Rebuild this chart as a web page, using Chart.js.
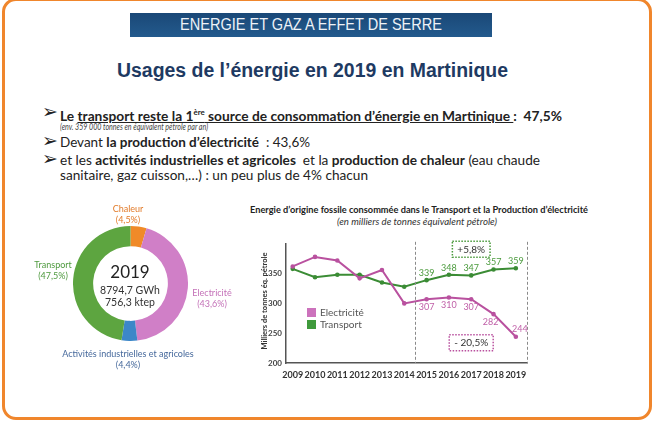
<!DOCTYPE html>
<html lang="fr">
<head>
<meta charset="utf-8">
<script src="https://cdn.jsdelivr.net/npm/chart.js@4.4.1/dist/chart.umd.min.js"></script>
<style>
  html, body { margin: 0; padding: 0; background: #fff; }
  body { width: 657px; height: 424px; position: relative; overflow: hidden; font-family: Lato, "Open Sans", sans-serif; color: #222; }
  .frame { position: absolute; left: 2px; top: -2px; width: 644px; height: 416px; border: 3px solid #f0862c; border-radius: 14px; }
  .abs { position: absolute; white-space: nowrap; }
  .fit { transform-origin: 0 50%; }
  .ctr { transform: translateX(-50%); text-align: center; }
  #header { left: 130px; top: 13px; width: 362px; height: 24px; background: linear-gradient(#1a4877, #235a8d); }
  #header-text { left: 180px; top: 15px; font: 17px/20px "Liberation Sans", Arial, sans-serif; color: #eef2f7; }
  #title { left: 117px; top: 58px; font: bold 20px/24px "Liberation Sans", Arial, sans-serif; color: #1e3a62; }
  .arrow { left: 42px; font: 19px/17px "DejaVu Sans", sans-serif; color: #222; }
  .bl { left: 60px; font-size: 14px; line-height: 17px; }
  .bl b { font-weight: bold; }
  #note { left: 60px; top: 121px; font: italic 9px/12px Lato, sans-serif; color: #444; }
  .dl { font-size: 9px; line-height: 11px; }
  #ctitle { left: 250px; top: 204px; font: bold 9.5px/12px Lato, sans-serif; color: #222; }
  #csub { left: 337px; top: 216px; font: italic 9px/12px Lato, sans-serif; color: #333; }
  #ytitle { left: 264px; top: 301px; font: bold 7.5px/9px Lato, sans-serif; color: #333; transform: translate(-50%, -50%) rotate(-90deg); }
  .lg { left: 307px; font: 10px/12px Lato, sans-serif; color: #555; }
  .lg i { display: inline-block; width: 9px; height: 9px; margin-right: 4px; vertical-align: -1px; }
  #donut { position: absolute; left: 73px; top: 226px; width: 115px; height: 115px; }
  #lines { position: absolute; left: 240px; top: 235px; width: 295px; height: 147px; }
</style>
</head>
<body>
<div class="frame"></div>
<div id="header" class="abs"></div>
<div id="header-text" class="abs fit">ENERGIE ET GAZ A EFFET DE SERRE</div>
<div id="title" class="abs fit">Usages de l’énergie en 2019 en Martinique</div>

<div class="abs arrow" style="top:103px">➢</div>
<div id="l1" class="abs bl fit" style="top:104px"><b>Le <u>transport reste la 1<sup style="font-size:8px">ère</sup> source de consommation d’énergie en Martinique </u>:&nbsp; 47,5%</b></div>
<div id="note" class="abs fit">(env. 359 000 tonnes en équivalent pétrole par an)</div>
<div class="abs arrow" style="top:132px">➢</div>
<div id="l2" class="abs bl fit" style="top:133px">Devant <b>la production d’électricité</b> &nbsp;: 43,6%</div>
<div class="abs arrow" style="top:150px">➢</div>
<div id="l3" class="abs bl fit" style="top:151px">et les <b>activités industrielles et agricoles</b> &nbsp;et la <b>production de chaleur</b> (eau chaude</div>
<div id="l4" class="abs bl fit" style="top:166px">sanitaire, gaz cuisson,…) : un peu plus de 4% chacun</div>

<canvas id="donut"></canvas>
<div class="abs ctr" style="left:130px; top:262px; font: 17px/20px Lato, sans-serif; color:#222">2019</div>
<div class="abs ctr" style="left:130px; top:284px; font: 10.5px/13px Lato, sans-serif; color:#333">8794,7 GWh</div>
<div class="abs ctr" style="left:130px; top:296px; font: 10.5px/13px Lato, sans-serif; color:#333">756,3 ktep</div>
<div class="abs ctr dl" style="left:128px; top:203px; color:#e27b2a">Chaleur<br>(4,5%)</div>
<div class="abs ctr dl" style="left:53px; top:259px; color:#4f9a3f">Transport<br>(47,5%)</div>
<div class="abs ctr dl" style="left:212px; top:287px; color:#c472b8">Electricité<br>(43,6%)</div>
<div class="abs ctr dl" style="left:128px; top:348px; color:#46699c">Activités industrielles et agricoles<br>(4,4%)</div>

<div id="ctitle" class="abs fit">Energie d’origine fossile consommée dans le Transport et la Production d’électricité</div>
<div id="csub" class="abs fit">(en milliers de tonnes équivalent pétrole)</div>
<div id="ytitle" class="abs">Milliers de tonnes éq. pétrole</div>
<canvas id="lines"></canvas>
<div class="abs lg" style="top:306px"><i style="background:#cc72bc"></i>Electricité</div>
<div class="abs lg" style="top:318px"><i style="background:#3f9a3c"></i>Transport</div>

<script>
// Répartition 2019 (%)
const usageLabels = ['Chaleur', 'Electricité', 'Activités industrielles et agricoles', 'Transport'];
const usageShares = [4.5, 43.6, 4.4, 47.5];
const usageColors = ['#f08a28', '#d07fc7', '#3c87c8', '#5da540'];

// Energie fossile (milliers de tep)
const years = [2009, 2010, 2011, 2012, 2013, 2014, 2015, 2016, 2017, 2018, 2019];
const elecValues = [362, 378, 372, 342, 356, 300, 307, 310, 307, 282, 244];
const transportValues = [358, 344, 348, 348, 335, 328, 339, 348, 347, 357, 359];
const yTicks = [200, 250, 300, 350];
const firstLabelYear = 2015;
const periodBounds = [2014.5, 2019.5];
const trendNotes = [
  { text: '+5,8%', year: 2017, value: 391, color: '#4a9a3c' },
  { text: '- 20,5%', year: 2017, value: 234, color: '#b9519f' }
];

const ELEC = '#b9519f';
const TRANSPORT = '#3b8c35';

function fitText(id, width) {
  const el = document.getElementById(id);
  el.style.transform = `scaleX(${width / el.getBoundingClientRect().width})`;
}
fitText('header-text', 262);
fitText('title', 391);
fitText('l1', 502);
fitText('note', 148);
fitText('l2', 250);
fitText('l3', 480);
fitText('l4', 308);
fitText('ctitle', 338);
fitText('csub', 160);

new Chart(document.getElementById('donut'), {
  type: 'doughnut',
  data: {
    labels: usageLabels,
    datasets: [{ data: usageShares, backgroundColor: usageColors, borderWidth: 0 }]
  },
  options: {
    responsive: false,
    animation: false,
    cutout: '65%',
    plugins: { legend: { display: false }, tooltip: { enabled: false } }
  }
});

// valeurs 2015-2019 + lignes pointillées + encadrés
const extras = {
  id: 'extras',
  afterDatasetsDraw(chart) {
    const { ctx, chartArea, scales } = chart;
    ctx.save();

    ctx.strokeStyle = '#8a8a8a';
    ctx.lineWidth = 1;
    ctx.setLineDash([3, 2]);
    periodBounds.forEach(v => {
      const x = Math.round(scales.x.getPixelForValue(v)) + 0.5;
      ctx.beginPath();
      ctx.moveTo(x, chartArea.top - 2);
      ctx.lineTo(x, chartArea.bottom);
      ctx.stroke();
    });

    ctx.setLineDash([]);
    ctx.font = '9px Lato';
    ctx.textAlign = 'center';
    ctx.textBaseline = 'middle';
    chart.data.datasets.forEach((ds, di) => {
      const meta = chart.getDatasetMeta(di);
      meta.data.forEach((pt, i) => {
        if (years[i] < firstLabelYear) return;
        let dx = 0, dy = di === 0 ? 8 : -7;
        if (di === 0 && i === years.length - 2) dx = -3;
        if (di === 0 && i === years.length - 1) { dx = 4; dy = -8; }
        ctx.fillStyle = di === 0 ? '#c060a8' : '#4a9a3c';
        ctx.fillText(ds.data[i], pt.x + dx, pt.y + dy);
      });
    });

    ctx.font = '10px Lato';
    trendNotes.forEach(n => {
      const x = scales.x.getPixelForValue(n.year);
      const y = scales.y.getPixelForValue(n.value);
      const w = ctx.measureText(n.text).width + 10;
      const h = 16;
      ctx.strokeStyle = n.color;
      ctx.lineWidth = 1.5;
      ctx.setLineDash([1.5, 1.5]);
      ctx.strokeRect(x - w / 2, y - h / 2, w, h);
      ctx.fillStyle = '#333';
      ctx.fillText(n.text, x, y + 0.5);
    });
    ctx.restore();
  }
};

new Chart(document.getElementById('lines'), {
  type: 'line',
  data: {
    labels: years,
    datasets: [
      { label: 'Electricité', data: elecValues, borderColor: ELEC, backgroundColor: ELEC, borderWidth: 2, pointRadius: 1.3, tension: 0 },
      { label: 'Transport', data: transportValues, borderColor: TRANSPORT, backgroundColor: TRANSPORT, borderWidth: 2, pointRadius: 1.3, tension: 0 }
    ]
  },
  options: {
    responsive: false,
    animation: false,
    layout: { padding: { top: 8, right: 8 } },
    scales: {
      x: {
        type: 'linear',
        min: 2008.7,
        max: 2019.5,
        afterBuildTicks: s => { s.ticks = years.map(v => ({ value: v })); },
        afterFit: s => { s.height = 19; },
        grid: { display: false, drawTicks: false },
        border: { color: '#555', width: 1.5 },
        ticks: { color: '#333', font: { family: 'Lato', size: 9, weight: 'bold' }, padding: 7, callback: v => String(v), maxRotation: 0 }
      },
      y: {
        min: 200,
        max: 400,
        afterBuildTicks: s => { s.ticks = yTicks.map(v => ({ value: v })); },
        afterFit: s => { s.width = 46; },
        grid: { display: false, drawTicks: false },
        border: { color: '#555', width: 1.5 },
        ticks: { color: '#444', font: { family: 'Lato', size: 8, weight: 'bold' }, padding: 4 }
      }
    },
    plugins: { legend: { display: false }, tooltip: { enabled: false } }
  },
  plugins: [extras]
});
</script>
</body>
</html>
